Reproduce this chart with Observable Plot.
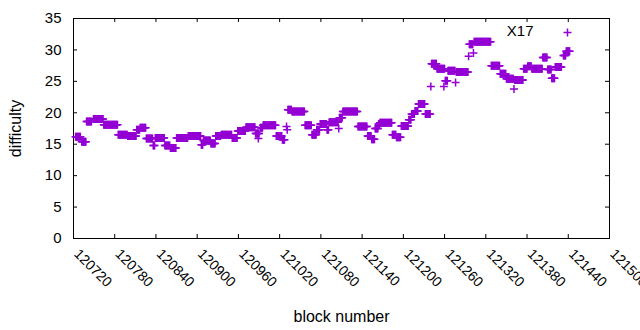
<!DOCTYPE html>
<html>
<head>
<meta charset="utf-8">
<script src="https://cdn.jsdelivr.net/npm/d3@7"></script>
<script src="https://cdn.jsdelivr.net/npm/@observablehq/plot@0.6"></script>
<style>
  html, body { margin: 0; padding: 0; background: white; }
</style>
</head>
<body>
<div id="chart"></div>
<script>
// Runs of consecutive blocks sharing the same difficulty
const runStart = [120723,120732,120739,120749,120764,120785,120799,120812,120817,120826,120836,120839,120853,120861,120870,120887,120906,120909,120920,120927,120935,120951,120959,120971,120985,120989,120992,120996,121015,121024,121030,121031,121032,121038,121057,121067,121074,121079,121089,121092,121106,121107,121112,121134,121148,121154,121159,121164,121166,121184,121190,121197,121208,121212,121217,121222,121232,121240,121241,121249,121259,121261,121265,121276,121277,121295,121296,121302,121303,121328,121341,121350,121361,121362,121375,121381,121387,121403,121410,121416,121421,121433,121437];
const runEnd   = [120730,120738,120746,120763,120784,120798,120811,120816,120825,120835,120838,120852,120860,120869,120886,120905,120908,120919,120926,120934,120950,120958,120970,120984,120990,120989,120995,121014,121023,121027,121030,121031,121037,121056,121066,121073,121078,121088,121091,121105,121106,121111,121133,121147,121153,121158,121163,121165,121183,121189,121196,121207,121211,121216,121221,121231,121239,121240,121248,121260,121259,121264,121275,121276,121294,121295,121301,121302,121327,121340,121349,121360,121361,121374,121380,121386,121402,121409,121415,121420,121430,121436,121442];
const runValue = [16.2,15.4,18.6,19.0,18.1,16.5,16.3,17.3,17.6,15.9,14.8,16.0,14.8,14.4,16.0,16.3,14.9,15.6,15.1,16.3,16.5,16.0,17.1,17.7,16.7,15.9,17.6,18.0,16.3,15.7,17.8,17.3,20.5,20.2,18.0,16.5,17.3,18.2,17.3,18.5,17.5,19.2,20.2,17.8,16.3,15.8,17.5,18.2,18.4,16.5,16.1,17.9,18.9,19.8,20.3,21.4,19.8,24.2,27.8,27.0,24.2,25.1,26.7,24.8,26.5,29.0,30.9,29.5,31.3,27.5,26.2,25.4,23.8,25.2,27.0,27.4,27.0,28.8,26.9,25.5,27.3,29.1,29.8];

const xTicks = [120720,120780,120840,120900,120960,121020,121080,121140,121200,121260,121320,121380,121440,121500];
const yTicks = [0,5,10,15,20,25,30,35];
const seriesName = "X17";
const xLabel = "block number";
const yLabel = "difficulty";

// one point per block
const points = [];
runStart.forEach((s, i) => {
  for (let b = s; b <= runEnd[i]; b++) points.push({block: b, difficulty: runValue[i]});
});

const color = "#9400D3";

const chart = Plot.plot({
  width: 640,
  height: 330,
  marginLeft: 73,
  marginRight: 31,
  marginTop: 18,
  marginBottom: 92,
  style: {fontFamily: "'Liberation Sans', Arial, sans-serif", fontSize: "15px", background: "white", color: "black"},
  x: {domain: [120720, 121500], axis: null},
  y: {domain: [0, 35], axis: null},
  marks: [
    // inward ticks on all four sides
    Plot.tickY(yTicks, {y: d => d, insetRight: 532, stroke: "black"}),
    Plot.tickY(yTicks, {y: d => d, insetLeft: 532, stroke: "black"}),
    Plot.tickX(xTicks, {x: d => d, insetTop: 216, stroke: "black"}),
    Plot.tickX(xTicks, {x: d => d, insetBottom: 216, stroke: "black"}),
    Plot.text(yTicks, {y: d => d, text: d => String(d), frameAnchor: "left", dx: -12, textAnchor: "end", lineAnchor: "middle", fontSize: 15}),
    Plot.text(xTicks, {x: d => d, text: d => String(d), frameAnchor: "bottom", rotate: 45, textAnchor: "start", lineAnchor: "middle", dx: 3, dy: 13, fontSize: 14}),
    Plot.frame({stroke: "black"}),
    Plot.dot(points, {x: "block", y: "difficulty", symbol: "plus", r: 2.7, stroke: color, strokeWidth: 1.5}),
    // legend
    Plot.text([seriesName], {frameAnchor: "top-right", dx: -76, dy: 13, textAnchor: "end", lineAnchor: "middle", fontSize: 15}),
    Plot.dot([seriesName], {frameAnchor: "top-right", dx: -42, dy: 14, symbol: "plus", r: 2.7, stroke: color, strokeWidth: 1.5}),
    // axis titles
    Plot.text([yLabel], {frameAnchor: "left", dx: -58, rotate: -90, textAnchor: "middle", lineAnchor: "middle", fontSize: 16}),
    Plot.text([xLabel], {frameAnchor: "bottom", dy: 78, textAnchor: "middle", lineAnchor: "middle", fontSize: 16})
  ]
});
document.getElementById("chart").appendChild(chart);
</script>
</body>
</html>
